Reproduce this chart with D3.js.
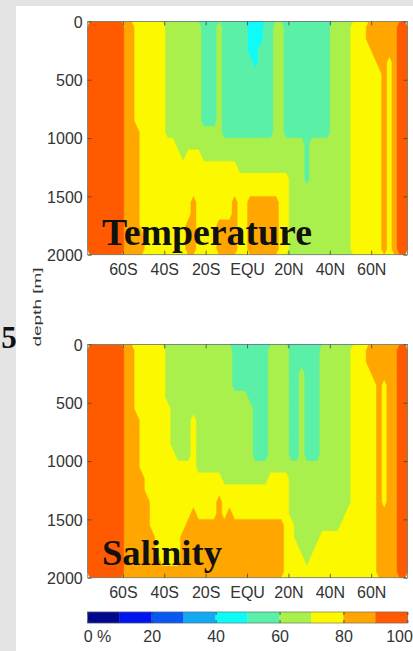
<!DOCTYPE html>
<html><head><meta charset="utf-8">
<script src="https://cdn.jsdelivr.net/npm/d3@7"></script>
<style>body{margin:0;background:#fff} svg{display:block}</style>
</head><body>
<svg id="chart" width="413" height="651"></svg>
<script>
// ---------- data ----------
const latTicks = [-60, -40, -20, 0, 20, 40, 60];
const latTickLabels = ["60S", "40S", "20S", "EQU", "20N", "40N", "60N"];
const depthTicks = [0, 500, 1000, 1500, 2000];
const pctTicks = [0, 20, 40, 60, 80, 100];
const pctTickLabels = ["0 %", "20", "40", "60", "80", "100"];
const binEdges = [0, 10, 20, 30, 40, 50, 60, 70, 80, 90, 100];
const binColors = ["#00088e", "#0014f0", "#0a58f0", "#12a8f2", "#10fbf8",
                   "#5af0a8", "#aaf04c", "#fcf800", "#ffa600", "#ff5a00"];
const latExtent = [-77, 77.5];
const depthExtent = [0, 2000];
const panelTitles = ["Temperature", "Salinity"];

// Each string = one latitude column (2.5 deg wide, south -> north),
// each character = percentage bin (0..9) for a 100 m depth layer (top -> bottom).
const temperatureCols = [
  "99999999999999999999","99999999999999999999","99999999999999999999","99999999999999999999",
  "99999999999999999999","99999999999999999999","99999999999999999999",
  "88888888888888888888","88888888888888888888",
  "77777777788888888888","77777777777777777788",
  "77777777777777777777","77777777777777777777","77777777777777777777","77777777777777777777",
  "66666666667777777777","66666666667777777777","66666666666777777777","66666666666677777777",
  "66666666666777777888","66666666666777788888","66666666666777777777",
  "55555555566677777777","55555555566677777777","55555555566677777777",
  "66666666666677777888",
  "55555555556677777888","55555555556677777888","55555555556677788888",
  "55555555556667777777","55555555556667777777",
  "44455555556667788888","44445555556667788888","44555555556667788888",
  "55555555556667788888","55555555556667788888",
  "66666666666667788888","66666666666667777777",
  "55555555556667777777",
  "55555555556666666666","55555555556666666666","55555555556666666666",
  "55555555555555666666",
  "55555555556666666666","55555555556666666666","55555555556666666666","55555555556666666666",
  "66666666666666666666","66666666666666666666","66666666666666666666","66666666666666666666",
  "77777777777777777777","77777777777777777777","77777777777777777777",
  "88777777777777777777","88877777777777777777","88887777777777777777",
  "88888888888888888888","88877777777777777777","88888888888888888888",
  "99999999999999999999","99999999999999999999"
];
const salinityCols = [
  "99999999999999999999","99999999999999999999","99999999999999999999","99999999999999999999",
  "99999999999999999999","99999999999999999999","99999999999999999999",
  "88888888888888888888","88888888888888888888",
  "77777788888888888888","77777777777888888888","77777777777778888888",
  "77777777777777778888","77777777777777777788","77777777777777777778",
  "66666777777777777778","66666666677777777778","66666666667777777778",
  "66666666667777778888","66666666667777788888","66666677777777888888",
  "66666666666777788888","66666666666777788888","66666666666777788888","66666666666777788888",
  "66666666666778888888","66666666666677788888","66666666666677888888",
  "55556666666677788888","55556666666677788888","55556666666677788888",
  "55555666666677788888",
  "55555555556677788888","55555555556677788888","55555555556677788888",
  "66666666666777788888","66666666666777788888","66666666666777788888",
  "66666666666777777777",
  "55555555556666677777","55555555556666666777","55666666666666666677",
  "55555555556666666667","55555555556666666677","55555555556666666777",
  "66666666666666667777","66666666666666667777","66666666666666667777","66666666666666667777",
  "66666666666666677777","66666666666666777777",
  "77777777777777777777","77777777777777777777","77777777777777777777",
  "88777777777777777777","88877777777777777777","88888888888888888888",
  "88877777777777888888","88888888888888888888","88888888888888888888",
  "99999999999999999999","99999999999999999999"
];

// ---------- drawing ----------
const W = 413, H = 651;
const svg = d3.select("#chart");
const axisFont = "'Liberation Sans', Arial, Helvetica, sans-serif";
const serifFont = "'Liberation Serif', 'Times New Roman', Times, serif";
const textColor = "#333";

svg.append("rect").attr("width", W).attr("height", H).attr("fill", "#e4e4e4");
svg.append("rect").attr("x", 16).attr("y", 6).attr("width", W - 16).attr("height", H - 6).attr("fill", "#ffffff");

const plotX = [87.7, 407.4];
const x = d3.scaleLinear().domain(latExtent).range(plotX);
const color = d3.scaleThreshold().domain(binEdges.slice(1, -1)).range(binColors);

const panels = [
  { cols: temperatureCols, title: panelTitles[0], top: 21.4, bottom: 254.7, titleY: 245, titleW: 210 },
  { cols: salinityCols, title: panelTitles[1], top: 344.4, bottom: 577.7, titleY: 564.5, titleW: 120 }
];

const defs = svg.append("defs");

panels.forEach((p, k) => {
  const y = d3.scaleLinear().domain(depthExtent).range([p.top, p.bottom]);
  const nx = p.cols.length, ny = p.cols[0].length;
  const values = new Array(nx * ny);
  for (let r = 0; r < ny; r++)
    for (let c = 0; c < nx; c++)
      values[r * nx + c] = (+p.cols[c][r]) * 10 + 5;

  const gx = d3.scaleLinear().domain([0, nx]).range(latExtent);
  const gy = d3.scaleLinear().domain([0, ny]).range(depthExtent);
  const proj = d3.geoTransform({
    point(px, py) { this.stream.point(x(gx(px)), y(gy(py))); }
  });
  const path = d3.geoPath(proj);
  const contours = d3.contours().size([nx, ny]).thresholds(binEdges.slice(0, -1))(values);

  defs.append("clipPath").attr("id", "clip" + k)
    .append("rect").attr("x", plotX[0]).attr("y", p.top)
    .attr("width", plotX[1] - plotX[0]).attr("height", p.bottom - p.top);

  svg.append("g").attr("clip-path", `url(#clip${k})`)
    .selectAll("path").data(contours).join("path")
    .attr("d", path)
    .attr("fill", d => color(d.value))
    .attr("stroke", d => color(d.value))
    .attr("stroke-width", 0.4);

  // frame
  svg.append("rect").attr("x", plotX[0]).attr("y", p.top)
    .attr("width", plotX[1] - plotX[0]).attr("height", p.bottom - p.top)
    .attr("fill", "none").attr("stroke", "#777").attr("stroke-width", 0.8);

  const styleAxis = g => {
    g.select(".domain").remove();
    g.attr("font-size", 16).attr("font-family", axisFont);
    g.selectAll("text").attr("fill", textColor);
    g.selectAll("line").attr("stroke", "#444").attr("stroke-width", 0.8);
  };

  svg.append("g").attr("transform", `translate(0,${p.bottom})`)
    .call(d3.axisBottom(x).tickValues(latTicks).tickFormat((d, i) => latTickLabels[i])
      .tickSize(-4).tickPadding(9))
    .call(styleAxis);
  svg.append("g").attr("transform", `translate(0,${p.top})`)
    .call(d3.axisTop(x).tickValues(latTicks).tickFormat(() => "").tickSize(-4))
    .call(styleAxis);
  svg.append("g").attr("transform", `translate(${plotX[0]},0)`)
    .call(d3.axisLeft(y).tickValues(depthTicks).tickFormat(d3.format("d"))
      .tickSize(-4).tickPadding(5))
    .call(styleAxis)
    .call(g => g.selectAll("text").attr("dy", "0.36em"));
  svg.append("g").attr("transform", `translate(${plotX[1]},0)`)
    .call(d3.axisRight(y).tickValues(depthTicks).tickFormat(() => "").tickSize(-4))
    .call(styleAxis);

  const t = svg.append("text").attr("x", 102).attr("y", p.titleY)
    .attr("font-family", serifFont).attr("font-weight", "bold")
    .attr("font-size", 36.5).attr("fill", "#111")
    .text(p.title);
  const len = t.node().getComputedTextLength();
  if (len > 0) t.attr("font-size", 36.5 * p.titleW / len);
});

// colorbar
const cx = d3.scaleLinear().domain([binEdges[0], binEdges[binEdges.length - 1]]).range(plotX);
const cbTop = 612, cbBottom = 623;
svg.append("g").selectAll("rect").data(binColors).join("rect")
  .attr("x", (d, i) => cx(binEdges[i]))
  .attr("width", (d, i) => cx(binEdges[i + 1]) - cx(binEdges[i]))
  .attr("y", cbTop).attr("height", cbBottom - cbTop)
  .attr("fill", d => d).attr("stroke", d => d).attr("stroke-width", 0.3);
svg.append("rect").attr("x", plotX[0]).attr("y", cbTop)
  .attr("width", plotX[1] - plotX[0]).attr("height", cbBottom - cbTop)
  .attr("fill", "none").attr("stroke", "#666").attr("stroke-width", 0.6);

const cbAxis = svg.append("g").attr("transform", `translate(0,${cbBottom})`)
  .call(d3.axisBottom(cx).tickValues(pctTicks).tickFormat((d, i) => pctTickLabels[i])
    .tickSize(-3).tickPadding(7.3));
cbAxis.select(".domain").remove();
cbAxis.attr("font-size", 16).attr("font-family", axisFont);
cbAxis.selectAll("text").attr("fill", textColor);
cbAxis.selectAll("line").attr("stroke", "#333").attr("stroke-width", 0.8);
cbAxis.selectAll("text").filter(d => d === pctTicks[0])
  .attr("text-anchor", "start").attr("x", -4.5);
cbAxis.selectAll("text").filter(d => d === pctTicks[pctTicks.length - 1])
  .attr("text-anchor", "end").attr("x", 5);
const cbAxisTop = svg.append("g").attr("transform", `translate(0,${cbTop})`)
  .call(d3.axisTop(cx).tickValues(pctTicks).tickFormat(() => "").tickSize(-3));
cbAxisTop.select(".domain").remove();
cbAxisTop.selectAll("line").attr("stroke", "#333").attr("stroke-width", 0.8);

// y label: large font for its length, glyph height compressed (as in the reference)
svg.append("text")
  .attr("transform", "translate(41,307) rotate(-90) scale(1,0.62)")
  .attr("text-anchor", "middle")
  .attr("font-family", axisFont).attr("font-size", 19)
  .attr("fill", textColor)
  .text("depth [m]");

// panel number
svg.append("text").attr("x", 16.7).attr("y", 348).attr("text-anchor", "end")
  .attr("font-family", serifFont).attr("font-weight", "bold").attr("font-size", 31)
  .attr("fill", "#111").text("5");
</script>
</body></html>
